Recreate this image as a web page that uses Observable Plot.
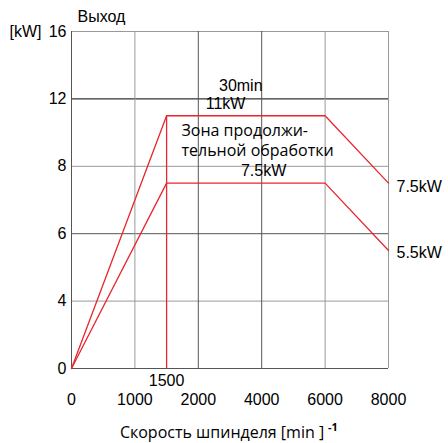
<!DOCTYPE html>
<html><head><meta charset="utf-8">
<script src="https://cdn.jsdelivr.net/npm/d3@7"></script>
<script src="https://cdn.jsdelivr.net/npm/@observablehq/plot@0.6"></script>
<style>body{margin:0;background:#fff}</style>
</head><body><div id="chart"></div>
<script>
// Tick values (the axes are evenly spaced between these, i.e. piecewise)
const xTicks = [0, 1000, 2000, 4000, 6000, 8000];
const yTicks = [0, 4, 6, 8, 12, 16];
// Power curves (speed in min^-1, power in kW)
const speed = [0, 1500, 6000, 8000];
const power30min = [0, 11, 11, 7.5];
const powerCont = [0, 7.5, 7.5, 5.5];
const baseSpeed = [1500];
// Annotations
const noteText = ["30min", "11kW", "7.5kW"];
const noteX = [3340, 2860, 4060];
const noteY = [12.8, 11.7, 7.85];
const zoneText = ["Зона продолжи-", "тельной обработки"];
const zoneX = [1735, 1735];
const zoneY = [10.1, 8.9];
const endText = ["7.5kW", "5.5kW"];
const endY = [7.4, 5.42];

const xMap = d3.scaleLinear().domain(xTicks).range(d3.range(xTicks.length));
const yMap = d3.scaleLinear().domain(yTicks).range(d3.range(yTicks.length));
const red = "#e8262e";
const sans = "Liberation Sans, Arial, sans-serif";
const open = "Open Sans, sans-serif";
const yGrid = v => v === 12 ? "#000" : (v === 6 || v === 0 ? "#555" : "#999");
const xGrid = v => (v === 2000 || v === 4000 || v === 0) ? "#555" : "#999";

const curve1 = speed.map((s, i) => ({s, p: power30min[i]}));
const curve2 = speed.map((s, i) => ({s, p: powerCont[i]}));
const notes = noteText.map((t, i) => ({t, x: noteX[i], y: noteY[i]}));
const zone = zoneText.map((t, i) => ({t, x: zoneX[i], y: zoneY[i]}));
const ends = endText.map((t, i) => ({t, y: endY[i]}));

const chart = Plot.plot({
  width: 448, height: 443,
  marginLeft: 71, marginRight: 60, marginTop: 31, marginBottom: 75,
  style: {fontFamily: sans, fontSize: "16px", background: "#fff", color: "#000"},
  x: {domain: [0, xTicks.length - 1], axis: null},
  y: {domain: [0, yTicks.length - 1], axis: null},
  marks: [
    Plot.ruleY(yTicks, {y: d => yMap(d), stroke: d => yGrid(d), strokeWidth: 1}),
    Plot.ruleX(xTicks, {x: d => xMap(d), stroke: d => xGrid(d), strokeWidth: 1}),
    Plot.line(curve1, {x: d => xMap(d.s), y: d => yMap(d.p), stroke: red, strokeWidth: 1.3}),
    Plot.line(curve2, {x: d => xMap(d.s), y: d => yMap(d.p), stroke: red, strokeWidth: 1.3}),
    Plot.ruleX(baseSpeed, {x: d => xMap(d), y1: () => yMap(0), y2: () => yMap(power30min[1]), stroke: red, strokeWidth: 1.3}),
    // y tick labels
    Plot.text(yTicks, {x: () => 0, y: d => yMap(d), text: d => String(d), textAnchor: "end", dx: -5, fontSize: 16, fontFamily: sans}),
    // x tick labels
    Plot.text(xTicks, {x: d => xMap(d), y: () => 0, text: d => String(d), dy: 31, fontSize: 16, fontFamily: sans}),
    Plot.text(baseSpeed, {x: d => xMap(d), y: () => 0, text: d => String(d), dy: 12, fontSize: 16, fontFamily: sans}),
    // annotations
    Plot.text(notes, {x: d => xMap(d.x), y: d => yMap(d.y), text: "t", fontSize: 16, fontFamily: sans}),
    Plot.text(zone, {x: d => xMap(d.x), y: d => yMap(d.y), text: "t", textAnchor: "start", fontSize: 16, fontFamily: open}),
    Plot.text(ends, {x: () => xMap(8000), y: d => yMap(d.y), text: "t", textAnchor: "start", dx: 8, fontSize: 16, fontFamily: sans}),
    // axis titles
    Plot.text(["[kW]"], {frameAnchor: "top-left", lineAnchor: "middle", text: d => d, textAnchor: "end", dx: -30, fontSize: 16, fontFamily: sans}),
    Plot.text(["Выход"], {frameAnchor: "top-left", lineAnchor: "middle", text: d => d, textAnchor: "start", dx: 6, dy: -15, fontSize: 16, fontFamily: sans}),
    Plot.text(["Скорость шпинделя [min ]"], {frameAnchor: "bottom", lineAnchor: "middle", text: d => d, dx: -8, dy: 64, fontSize: 16, fontFamily: open}),
    Plot.text(["-1"], {frameAnchor: "bottom", lineAnchor: "middle", text: d => d, textAnchor: "start", dx: 98, dy: 59, fontSize: 11, fontWeight: "bold", fontFamily: open})
  ]
});
document.getElementById("chart").append(chart);
</script>
</body></html>
